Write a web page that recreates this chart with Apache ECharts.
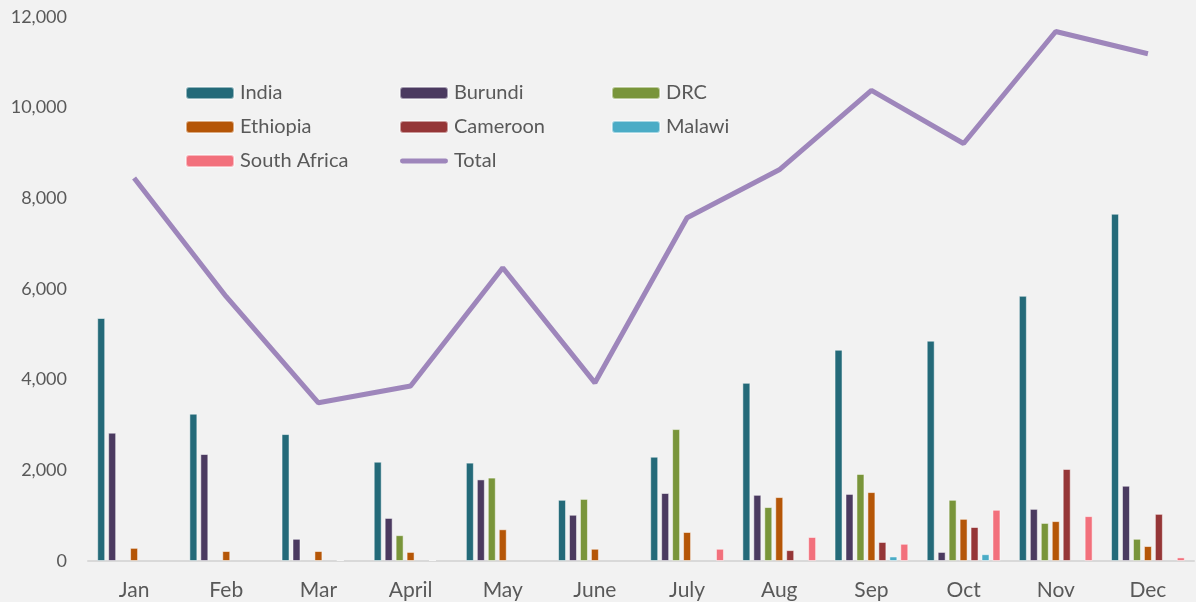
<!DOCTYPE html>
<html>
<head>
<meta charset="utf-8">
<script src="https://cdn.jsdelivr.net/npm/echarts@6/dist/echarts.min.js"></script>
<style>
  html, body { margin: 0; padding: 0; background: #f2f2f2; }
  #chart { width: 1196px; height: 602px; }
</style>
</head>
<body>
<div id="chart"></div>
<script>
const months = ['Jan', 'Feb', 'Mar', 'April', 'May', 'June', 'July', 'Aug', 'Sep', 'Oct', 'Nov', 'Dec']

// null = 当月无数据
const india       = [5360, 3250, 2800, 2190, 2170, 1350, 2300, 3930, 4660, 4860, 5850, 7660]
const burundi     = [2830, 2360, 490, 950, 1800, 1020, 1500, 1460, 1480, 200, 1150, 1660]
const drc         = [null, null, null, 570, 1840, 1370, 2910, 1190, 1920, 1350, 840, 490]
const ethiopia    = [290, 220, 220, 200, 700, 270, 640, 1410, 1520, 930, 880, 330]
const cameroon    = [null, null, null, null, null, null, null, 240, 420, 750, 2030, 1040]
const malawi      = [null, null, 20, 20, null, null, null, null, 100, 150, null, null]
const southAfrica = [null, null, null, null, null, null, 270, 530, 380, 1130, 990, 80]
const total       = [8450, 5830, 3490, 3860, 6470, 3930, 7570, 8630, 10380, 9210, 11680, 11190]

const yTicks = [0, 2000, 4000, 6000, 8000, 10000, 12000]

const font = 'Lato'
const textColor = '#595959'

const chart = echarts.init(document.getElementById('chart'))

// 柱状系列统一样式
const bar = (name, data, color) => ({
  name,
  type: 'bar',
  data,
  barWidth: 8,
  barGap: '37%',
  itemStyle: { color, borderColor: 'rgba(255,255,255,0.5)', borderWidth: 1 }
})

const legendBase = {
  orient: 'vertical',
  top: 78,
  itemWidth: 48,
  itemHeight: 12,
  itemGap: 14,
  textStyle: { fontFamily: font, fontSize: 20, color: textColor, padding: [0, 0, 0, 1] }
}

chart.setOption({
  backgroundColor: '#f2f2f2',
  animation: false,
  grid: { left: 88, right: 2, top: 17, bottom: 41 },
  legend: [
    { ...legendBase, left: 180, data: ['India', 'Ethiopia', 'South Africa'] },
    {
      ...legendBase, left: 394,
      data: ['Burundi', 'Cameroon', { name: 'Total', icon: 'path://M2,0 L46,0 A2.5,2.5 0 0 1 46,5 L2,5 A2.5,2.5 0 0 1 2,0 Z' }]
    },
    { ...legendBase, left: 606, data: ['DRC', 'Malawi'] }
  ],
  xAxis: {
    type: 'category',
    data: months,
    axisLine: { lineStyle: { color: '#d9d9d9', width: 2 } },
    axisTick: { show: false },
    axisLabel: { fontFamily: font, fontSize: 21, color: textColor, margin: 19 }
  },
  yAxis: {
    type: 'value',
    min: yTicks[0],
    max: yTicks[yTicks.length - 1],
    interval: yTicks[1] - yTicks[0],
    splitLine: { show: false },
    axisLine: { show: false },
    axisTick: { show: false },
    axisLabel: {
      fontFamily: font, fontSize: 18, color: textColor, margin: 21,
      formatter: v => v.toLocaleString('en-US')
    }
  },
  series: [
    bar('India', india, '#246a79'),
    bar('Burundi', burundi, '#4b3a60'),
    bar('DRC', drc, '#79953a'),
    bar('Ethiopia', ethiopia, '#b55607'),
    bar('Cameroon', cameroon, '#953637'),
    bar('Malawi', malawi, '#4bacc6'),
    bar('South Africa', southAfrica, '#f2707c'),
    {
      name: 'Total',
      type: 'line',
      data: total,
      symbol: 'none',
      lineStyle: { color: '#9e86bb', width: 5 },
      itemStyle: { color: '#9e86bb' }
    }
  ]
})
</script>
</body>
</html>
